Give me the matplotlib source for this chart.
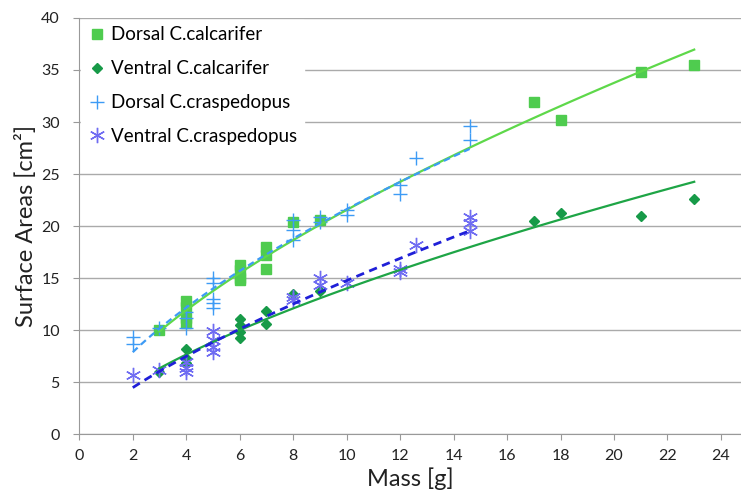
import matplotlib
matplotlib.use("Agg")
import matplotlib.pyplot as plt
import numpy as np

plt.rcParams['font.family'] = ['Lato', 'DejaVu Sans']

# data
dc_mass = [3, 4, 4, 4, 4, 6, 6, 6, 6, 7, 7, 7, 8, 9, 17, 18, 21, 23]
dc_area = [10.0, 12.8, 12.2, 11.2, 10.7, 16.3, 15.8, 15.0, 14.8, 18.0, 17.2, 15.9, 20.4, 20.6, 31.9, 30.2, 34.8, 35.5]

vc_mass = [3, 4, 4, 4, 6, 6, 6, 6, 7, 7, 8, 9, 17, 18, 21, 23]
vc_area = [6.0, 8.2, 7.3, 6.8, 11.1, 10.5, 9.8, 9.2, 11.8, 10.6, 13.5, 13.8, 20.5, 21.3, 21.0, 22.6]

dp_mass = [2, 2, 3, 4, 4, 4, 5, 5, 5, 5, 5, 8, 8, 8, 9, 9, 10, 10, 12, 12, 12.6, 14.6, 14.6]
dp_area = [9.3, 8.7, 10.2, 11.7, 11.2, 10.2, 15.0, 14.5, 13.0, 12.6, 12.1, 20.6, 19.6, 18.7, 20.9, 20.4, 21.5, 21.1, 23.9, 23.1, 26.5, 29.6, 28.3]

vp_mass = [2, 3, 4, 4, 4, 5, 5, 5, 5, 8, 8, 9, 9, 10, 12, 12, 12.6, 14.6, 14.6, 14.6]
vp_area = [5.7, 6.2, 6.9, 6.4, 6.0, 9.9, 9.0, 8.4, 7.9, 13.2, 12.9, 15.0, 14.3, 14.5, 15.9, 15.6, 18.2, 20.9, 20.3, 19.5]


def power_trend(x, y):
    # excel-style power trendline: linear fit in log-log space
    b, a = np.polyfit(np.log(x), np.log(y), 1)
    xs = np.linspace(min(x), max(x), 100)
    return xs, np.exp(a) * xs ** b


fig = plt.figure(figsize=(7.41, 4.99), dpi=100)
ax = fig.add_axes([0.107, 0.130, 0.893, 0.834])

ax.plot(dc_mass, dc_area, ls='none', marker='s', ms=7.5, color='#4fcc4f', label='Dorsal C.calcarifer')
ax.plot(vc_mass, vc_area, ls='none', marker='D', ms=5, color='#179a48', label='Ventral C.calcarifer')
ax.plot(dp_mass, dp_area, ls='none', marker='+', ms=10, mew=1, color='#3d9bf5', label='Dorsal C.craspedopus')
ax.plot(vp_mass, vp_area, ls='none', marker=(6, 2, 0), ms=11, mew=1, color='#6f6cf2', label='Ventral C.craspedopus')

xs, ys = power_trend(dc_mass, dc_area)
ax.plot(xs, ys, color='#5ed84a', lw=1.6, zorder=3)
xs, ys = power_trend(vc_mass, vc_area)
ax.plot(xs, ys, color='#1ea546', lw=1.6, zorder=3)
xs, ys = power_trend(dp_mass, dp_area)
ax.plot(xs, ys, color='#3d9bf5', lw=1.6, ls=(0, (3, 2)), zorder=3)
xs, ys = power_trend(vp_mass, vp_area)
ax.plot(xs, ys, color='#1f1fd8', lw=2, ls=(0, (3, 2)), zorder=3)

ax.set_xlim(0, 24.75)
ax.set_ylim(0, 40)
ax.set_xticks(np.arange(0, 25, 2))
ax.set_yticks(np.arange(0, 41, 5))
ax.tick_params(axis='both', labelsize=11.5, colors='#222222', length=4, color='#999999')
ax.tick_params(axis='y', pad=10)
ax.tick_params(axis='x', pad=7)
ax.yaxis.grid(True, color='#aaaaaa', lw=1)
ax.set_axisbelow(True)
for s in ['top', 'right']:
    ax.spines[s].set_visible(False)
for s in ['left', 'bottom']:
    ax.spines[s].set_color('#999999')

ax.set_xlabel('Mass [g]', fontsize=17, color='#222222', labelpad=3)
ax.set_ylabel('Surface Areas [cm²]', fontsize=17, color='#222222', labelpad=3)

leg = ax.legend(loc='upper left', bbox_to_anchor=(0.0, 1.0), fontsize=13.5, frameon=True,
                fancybox=False, framealpha=1, edgecolor='white', handletextpad=0.25,
                handlelength=1.0, labelspacing=0.9, borderaxespad=0.1, borderpad=0.35)

fig.savefig('out.png', dpi=100)
